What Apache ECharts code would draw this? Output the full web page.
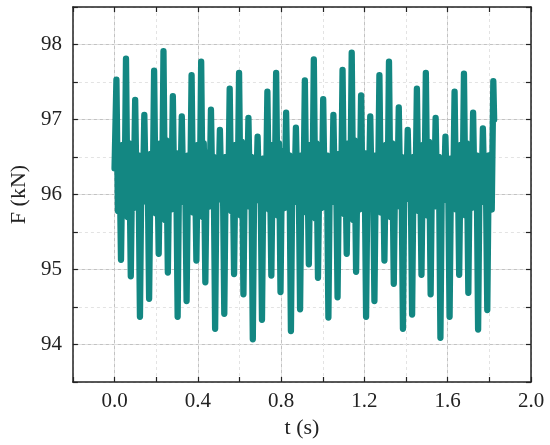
<!DOCTYPE html>
<html>
<head>
<meta charset="utf-8">
<script src="https://cdn.jsdelivr.net/npm/echarts@6/dist/echarts.min.js"></script>
<style>
html,body{margin:0;padding:0;background:#fff;}
#chart{width:550px;height:445px;}
</style>
</head>
<body>
<div id="chart"></div>
<script>
// Values
const startPoint = [0.000, 96.35];
const endPoint = [1.823, 97.00];

// spike tops
const peakT = [0.009,0.055,0.099,0.143,0.190,0.235,0.280,0.323,0.370,0.416,0.463,0.506,0.553,0.598,0.643,0.687,0.734,0.776,0.824,0.871,0.914,0.957,1.002,1.051,1.095,1.139,1.184,1.228,1.272,1.318,1.365,1.408,1.452,1.495,1.542,1.589,1.633,1.678,1.722,1.769,1.819];
const peakF = [97.53,97.81,97.26,97.06,97.65,97.91,97.31,97.04,97.59,97.77,97.13,96.86,97.41,97.62,97.02,96.77,97.37,97.62,97.09,96.89,97.52,97.80,97.27,97.06,97.66,97.89,97.32,97.04,97.59,97.77,97.16,96.86,97.41,97.62,97.02,96.77,97.37,97.61,97.09,96.88,97.51];

// spike bottoms
const troughT = [0.031,0.078,0.122,0.166,0.212,0.256,0.303,0.346,0.393,0.436,0.483,0.527,0.574,0.619,0.664,0.708,0.753,0.797,0.847,0.891,0.933,0.977,1.027,1.071,1.115,1.160,1.208,1.248,1.296,1.341,1.385,1.429,1.474,1.518,1.565,1.609,1.655,1.699,1.746,1.790];
const troughF = [95.13,94.91,94.37,94.61,95.21,94.96,94.37,94.58,95.12,94.83,94.21,94.41,94.94,94.67,94.07,94.33,94.92,94.70,94.18,94.47,95.07,94.89,94.36,94.63,95.21,94.97,94.37,94.58,95.12,94.81,94.21,94.40,94.93,94.67,94.09,94.37,94.93,94.69,94.20,94.46];

// dip just after each peak
const dipAfterT = [0.0165,0.0625,0.1065,0.1505,0.1975,0.2425,0.2875,0.3305,0.3775,0.4235,0.4705,0.5135,0.5605,0.6055,0.6505,0.6945,0.7415,0.7835,0.8315,0.8785,0.9215,0.9645,1.0095,1.0585,1.1025,1.1465,1.1915,1.2355,1.2795,1.3255,1.3725,1.4155,1.4595,1.5025,1.5495,1.5965,1.6405,1.6855,1.7295,1.7765];
const dipAfterF = [95.78,95.70,95.85,95.92,95.75,95.66,95.82,95.90,95.76,95.70,95.86,95.93,95.78,95.72,95.84,95.92,95.80,95.72,95.86,95.90,95.76,95.68,95.84,95.90,95.74,95.66,95.82,95.90,95.76,95.70,95.86,95.94,95.78,95.72,95.84,95.92,95.80,95.72,95.86,95.90];

// hump just before each trough
const humpBeforeT = [0.0235,0.0705,0.1145,0.1585,0.2045,0.2485,0.2955,0.3385,0.3855,0.4285,0.4755,0.5195,0.5665,0.6115,0.6565,0.7005,0.7455,0.7895,0.8395,0.8835,0.9255,0.9695,1.0195,1.0635,1.1075,1.1525,1.2005,1.2405,1.2885,1.3335,1.3775,1.4215,1.4665,1.5105,1.5575,1.6015,1.6475,1.6915,1.7385,1.7825];
const humpBeforeF = [96.62,96.68,96.52,96.46,96.64,96.72,96.55,96.46,96.62,96.68,96.50,96.44,96.60,96.70,96.50,96.42,96.62,96.68,96.52,96.46,96.62,96.68,96.52,96.46,96.64,96.72,96.55,96.46,96.62,96.68,96.50,96.44,96.60,96.70,96.50,96.42,96.62,96.68,96.52,96.46];

// hump just after each trough
const humpAfterT = [0.0385,0.0855,0.1295,0.1735,0.2195,0.2635,0.3105,0.3535,0.4005,0.4435,0.4905,0.5345,0.5815,0.6265,0.6715,0.7155,0.7605,0.8045,0.8545,0.8985,0.9405,0.9845,1.0345,1.0785,1.1225,1.1675,1.2155,1.2555,1.3035,1.3485,1.3925,1.4365,1.4815,1.5255,1.5725,1.6165,1.6625,1.7065,1.7535,1.7975];
const humpAfterF = [96.66,96.58,96.48,96.54,96.68,96.60,96.48,96.52,96.66,96.56,96.46,96.50,96.66,96.58,96.46,96.48,96.66,96.58,96.48,96.52,96.66,96.58,96.48,96.54,96.68,96.60,96.48,96.52,96.66,96.56,96.46,96.50,96.66,96.58,96.46,96.48,96.66,96.58,96.48,96.52];

// dip just before the next peak
const dipBeforeT = [0.0475,0.0915,0.1355,0.1825,0.2275,0.2725,0.3155,0.3625,0.4085,0.4555,0.4985,0.5455,0.5905,0.6355,0.6795,0.7265,0.7685,0.8165,0.8635,0.9065,0.9495,0.9945,1.0435,1.0875,1.1315,1.1765,1.2205,1.2645,1.3105,1.3575,1.4005,1.4445,1.4875,1.5345,1.5815,1.6255,1.6705,1.7145,1.7615,1.8115];
const dipBeforeF = [95.74,95.82,95.90,95.80,95.70,95.80,95.92,95.84,95.74,95.84,95.94,95.84,95.76,95.84,95.94,95.84,95.76,95.82,95.90,95.80,95.74,95.82,95.90,95.80,95.70,95.80,95.92,95.84,95.74,95.84,95.94,95.84,95.76,95.84,95.94,95.84,95.76,95.82,95.90,95.80];

const xTickLabels = ['0.0','0.4','0.8','1.2','1.6','2.0'];
const yTickLabels = ['94','95','96','97','98'];

// Assemble the signal in time order from the arrays above
const signal = [startPoint];
for (let i = 0; i < peakT.length; i++) {
  signal.push([peakT[i], peakF[i]]);
  if (i < troughT.length) {
    signal.push([dipAfterT[i], dipAfterF[i]]);
    signal.push([humpBeforeT[i], humpBeforeF[i]]);
    signal.push([troughT[i], troughF[i]]);
    signal.push([humpAfterT[i], humpAfterF[i]]);
    signal.push([dipBeforeT[i], dipBeforeF[i]]);
  }
}
signal.push(endPoint);

const FONT = 'Liberation Serif';
const chart = echarts.init(document.getElementById('chart'), null, {renderer: 'canvas'});
const frameLine = {show: true, onZero: false, lineStyle: {color: '#222', width: 1.5}};
const tick = {show: true, inside: true, length: 5, lineStyle: {color: '#222', width: 1.2}};

chart.setOption({
  animation: false,
  backgroundColor: '#fff',
  grid: {left: 63, right: 19, top: 7, bottom: 63, containLabel: false},
  xAxis: [{
    type: 'value', position: 'bottom', min: -0.2, max: 2.0, interval: 0.2,
    axisLine: frameLine, axisTick: tick,
    axisLabel: {
      fontFamily: FONT, fontSize: 21, color: '#222', margin: 9,
      formatter: v => { const s = v.toFixed(1); return xTickLabels.includes(s) ? s : ''; }
    },
    splitLine: {show: true, lineStyle: {color: ['rgba(0,0,0,0)', '#c2c2c2'], width: 1}},
    name: 't (s)', nameLocation: 'middle', nameGap: 32,
    nameTextStyle: {fontFamily: FONT, fontSize: 22, color: '#222'}
  }, {
    type: 'value', position: 'top', min: -0.2, max: 2.0, interval: 0.2,
    axisLine: frameLine, axisTick: tick, axisLabel: {show: false},
    splitLine: {show: true, lineStyle: {color: '#e3e3e3', width: 1, type: [3, 3]}}
  }],
  yAxis: [{
    type: 'value', position: 'left', min: 93.5, max: 98.5, interval: 0.5,
    axisLine: frameLine, axisTick: tick,
    axisLabel: {
      fontFamily: FONT, fontSize: 21, color: '#222', margin: 11,
      formatter: v => { const s = v.toFixed(1); return (s.endsWith('.0') && yTickLabels.includes(v.toFixed(0))) ? v.toFixed(0) : ''; }
    },
    splitLine: {show: true, lineStyle: {color: ['rgba(0,0,0,0)', '#c2c2c2'], width: 1}},
    name: 'F (kN)', nameLocation: 'middle', nameGap: 38,
    nameTextStyle: {fontFamily: FONT, fontSize: 22, color: '#222'}
  }, {
    type: 'value', position: 'right', min: 93.5, max: 98.5, interval: 0.5,
    axisLine: frameLine, axisTick: tick, axisLabel: {show: false},
    splitLine: {show: true, lineStyle: {color: '#e3e3e3', width: 1, type: [3, 3]}}
  }],
  series: [{
    type: 'line', xAxisIndex: 0, yAxisIndex: 0,
    data: signal, showSymbol: false, symbol: 'none',
    lineStyle: {color: '#138782', width: 6.3, cap: 'round', join: 'round'},
    z: 3
  }]
});
</script>
</body>
</html>
